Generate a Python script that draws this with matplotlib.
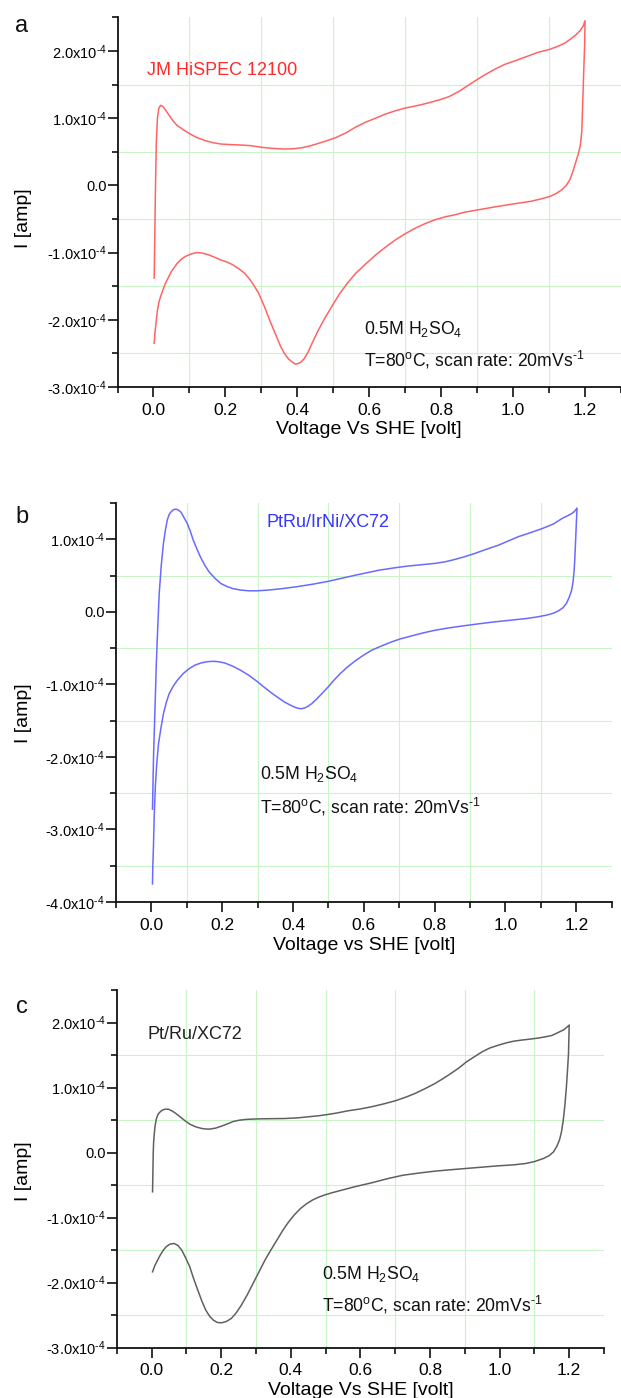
import matplotlib
matplotlib.use("Agg")
import matplotlib.pyplot as plt
from matplotlib.ticker import FixedLocator, FixedFormatter
import numpy as np

plt.rcParams['font.family'] = ['Liberation Sans', 'DejaVu Sans']
plt.rcParams['mathtext.default'] = 'regular'

# ---------------- data (current in units of 1e-4 A) ----------------
a_voltage = [0.002, 0.004, 0.006, 0.008, 0.011, 0.015, 0.020, 0.027, 0.035, 0.045, 0.055, 0.066, 0.077,
             0.088, 0.100, 0.121, 0.143, 0.165, 0.187, 0.210, 0.243, 0.270, 0.300, 0.330, 0.364, 0.390,
             0.410, 0.430, 0.450, 0.480, 0.507, 0.535, 0.560, 0.590, 0.618, 0.645, 0.673, 0.700, 0.728,
             0.760, 0.794, 0.822, 0.850, 0.870, 0.893, 0.920, 0.950, 0.977, 1.004, 1.040, 1.070, 1.100,
             1.125, 1.145, 1.158, 1.175, 1.186, 1.195, 1.200,
             1.199, 1.197, 1.195, 1.193, 1.191, 1.187, 1.182, 1.175, 1.167, 1.158, 1.148, 1.136, 1.120,
             1.103, 1.075, 1.048, 1.004, 0.950, 0.893, 0.865, 0.838, 0.810, 0.783, 0.755, 0.728, 0.700,
             0.673, 0.645, 0.618, 0.590, 0.562, 0.540, 0.518, 0.496, 0.474, 0.457, 0.441, 0.430, 0.419,
             0.410, 0.403, 0.395, 0.386, 0.375, 0.364, 0.353, 0.342, 0.325, 0.309, 0.292, 0.276, 0.265,
             0.254, 0.237, 0.220, 0.204, 0.187, 0.170, 0.154, 0.138, 0.121, 0.105, 0.088, 0.077, 0.066,
             0.050, 0.033, 0.022, 0.016, 0.011, 0.007, 0.004, 0.002]
a_current = [-1.38, -0.60, 0.10, 0.65, 1.00, 1.15, 1.19, 1.17, 1.11, 1.03, 0.955, 0.89, 0.85,
             0.81, 0.77, 0.71, 0.667, 0.635, 0.615, 0.607, 0.600, 0.59, 0.567, 0.55, 0.54, 0.545,
             0.557, 0.58, 0.61, 0.66, 0.71, 0.78, 0.86, 0.94, 1.00, 1.06, 1.11, 1.15, 1.18,
             1.22, 1.27, 1.32, 1.40, 1.47, 1.55, 1.64, 1.73, 1.80, 1.85, 1.92, 1.98, 2.02,
             2.07, 2.12, 2.17, 2.24, 2.30, 2.37, 2.45,
             2.10, 1.80, 1.45, 1.10, 0.80, 0.60, 0.48, 0.36, 0.22, 0.085, 0.00, -0.065, -0.12,
             -0.164, -0.205, -0.239, -0.274, -0.32, -0.373, -0.40, -0.438, -0.47, -0.512, -0.57, -0.637, -0.72,
             -0.811, -0.92, -1.035, -1.17, -1.31, -1.45, -1.61, -1.80, -2.00, -2.17, -2.35, -2.48, -2.58,
             -2.63, -2.65, -2.66, -2.63, -2.58, -2.50, -2.39, -2.25, -2.03, -1.81, -1.60, -1.46, -1.38,
             -1.31, -1.24, -1.18, -1.14, -1.11, -1.07, -1.035, -1.01, -1.00, -1.02, -1.06, -1.10, -1.16,
             -1.28, -1.46, -1.62, -1.72, -1.86, -2.05, -2.20, -2.35]

b_voltage = [0.003, 0.006, 0.009, 0.011, 0.014, 0.018, 0.022, 0.028, 0.034, 0.040, 0.045, 0.051, 0.056,
             0.063, 0.070, 0.077, 0.084, 0.092, 0.101, 0.110, 0.118, 0.129, 0.140, 0.151, 0.163, 0.180,
             0.196, 0.213, 0.230, 0.252, 0.275, 0.300, 0.331, 0.370, 0.409, 0.455, 0.499, 0.540, 0.578,
             0.610, 0.645, 0.685, 0.723, 0.765, 0.802, 0.830, 0.858, 0.885, 0.914, 0.945, 0.981, 1.010,
             1.037, 1.070, 1.105, 1.135, 1.161, 1.178, 1.189, 1.196, 1.202,
             1.200, 1.198, 1.196, 1.194, 1.191, 1.187, 1.180, 1.172, 1.162, 1.150, 1.135, 1.116, 1.090,
             1.060, 1.015, 0.970, 0.925, 0.880, 0.840, 0.802, 0.768, 0.735, 0.705, 0.678, 0.650, 0.622,
             0.600, 0.578, 0.555, 0.533, 0.515, 0.499, 0.482, 0.465, 0.453, 0.443, 0.433, 0.423, 0.414,
             0.404, 0.390, 0.376, 0.360, 0.342, 0.320, 0.297, 0.275, 0.252, 0.230, 0.207, 0.190, 0.174,
             0.157, 0.140, 0.123, 0.107, 0.090, 0.073, 0.061, 0.050, 0.042, 0.034, 0.027, 0.020, 0.015,
             0.011, 0.008, 0.006, 0.004, 0.003]
b_current = [-2.72, -2.00, -1.50, -1.13, -0.70, -0.20, 0.25, 0.65, 0.945, 1.14, 1.27, 1.35, 1.38,
             1.41, 1.415, 1.40, 1.37, 1.30, 1.22, 1.11, 0.99, 0.86, 0.74, 0.64, 0.55, 0.46,
             0.39, 0.35, 0.32, 0.30, 0.29, 0.29, 0.30, 0.32, 0.345, 0.38, 0.42, 0.465, 0.507,
             0.54, 0.576, 0.605, 0.63, 0.65, 0.668, 0.69, 0.723, 0.76, 0.806, 0.86, 0.92, 0.98,
             1.037, 1.09, 1.15, 1.21, 1.29, 1.33, 1.36, 1.39, 1.43,
             1.20, 0.945, 0.75, 0.576, 0.42, 0.30, 0.20, 0.115, 0.055, 0.014, -0.02, -0.046, -0.07,
             -0.092, -0.115, -0.138, -0.165, -0.194, -0.222, -0.253, -0.29, -0.332, -0.37, -0.415, -0.47, -0.53,
             -0.595, -0.668, -0.755, -0.853, -0.945, -1.037, -1.125, -1.21, -1.265, -1.30, -1.325, -1.336, -1.33,
             -1.313, -1.28, -1.244, -1.19, -1.129, -1.045, -0.954, -0.875, -0.806, -0.75, -0.705, -0.688, -0.682,
             -0.688, -0.705, -0.735, -0.783, -0.85, -0.945, -1.03, -1.13, -1.25, -1.405, -1.60, -1.82, -2.10,
             -2.42, -2.80, -3.20, -3.50, -3.75]

c_voltage = [0.003, 0.004, 0.005, 0.006, 0.008, 0.010, 0.014, 0.019, 0.025, 0.032, 0.040, 0.049, 0.059,
             0.070, 0.082, 0.096, 0.110, 0.127, 0.144, 0.155, 0.167, 0.184, 0.201, 0.218, 0.235, 0.252,
             0.269, 0.290, 0.314, 0.350, 0.383, 0.420, 0.451, 0.480, 0.507, 0.535, 0.564, 0.600, 0.632,
             0.665, 0.700, 0.730, 0.757, 0.785, 0.814, 0.837, 0.860, 0.883, 0.905, 0.928, 0.950, 0.973,
             0.996, 1.018, 1.041, 1.064, 1.087, 1.110, 1.132, 1.150, 1.166, 1.185, 1.200,
             1.199, 1.198, 1.195, 1.192, 1.188, 1.183, 1.178, 1.172, 1.164, 1.155, 1.142, 1.126, 1.100,
             1.075, 1.040, 0.996, 0.950, 0.905, 0.860, 0.814, 0.770, 0.723, 0.680, 0.632, 0.585, 0.542,
             0.518, 0.496, 0.479, 0.462, 0.445, 0.428, 0.411, 0.394, 0.377, 0.360, 0.343, 0.326, 0.309,
             0.292, 0.275, 0.258, 0.243, 0.229, 0.215, 0.201, 0.189, 0.178, 0.167, 0.156, 0.145, 0.133,
             0.121, 0.110, 0.098, 0.087, 0.076, 0.065, 0.053, 0.042, 0.033, 0.025, 0.017, 0.010, 0.006,
             0.003]
c_current = [-0.605, -0.30, 0.00, 0.15, 0.29, 0.40, 0.52, 0.59, 0.626, 0.655, 0.667, 0.665, 0.64,
             0.60, 0.55, 0.49, 0.436, 0.395, 0.37, 0.362, 0.36, 0.375, 0.405, 0.44, 0.477, 0.497,
             0.508, 0.514, 0.518, 0.52, 0.523, 0.533, 0.549, 0.565, 0.585, 0.61, 0.641, 0.67, 0.703,
             0.745, 0.795, 0.85, 0.908, 0.98, 1.06, 1.135, 1.215, 1.30, 1.395, 1.475, 1.55, 1.61,
             1.65, 1.685, 1.713, 1.73, 1.744, 1.76, 1.78, 1.80, 1.84, 1.89, 1.96,
             1.75, 1.52, 1.25, 1.01, 0.75, 0.497, 0.32, 0.19, 0.09, 0.01, -0.05, -0.092, -0.14,
             -0.169, -0.19, -0.205, -0.225, -0.246, -0.265, -0.287, -0.315, -0.349, -0.40, -0.467, -0.525, -0.585,
             -0.62, -0.656, -0.69, -0.733, -0.79, -0.862, -0.955, -1.067, -1.20, -1.35, -1.50, -1.656, -1.835,
             -2.015, -2.19, -2.35, -2.47, -2.554, -2.60, -2.62, -2.615, -2.58, -2.52, -2.426, -2.29, -2.118,
             -1.94, -1.76, -1.62, -1.503, -1.43, -1.40, -1.41, -1.45, -1.51, -1.58, -1.66, -1.733, -1.79,
             -1.836]

x_ticks = [0.0, 0.2, 0.4, 0.6, 0.8, 1.0, 1.2]
x_tick_labels = ["0.0", "0.2", "0.4", "0.6", "0.8", "1.0", "1.2"]
a_yticks = [-3.0, -2.0, -1.0, 0.0, 1.0, 2.0]
b_yticks = [-4.0, -3.0, -2.0, -1.0, 0.0, 1.0]
c_yticks = [-3.0, -2.0, -1.0, 0.0, 1.0, 2.0]


def ylab(v):
    if v == 0:
        return "0.0"
    return "%.1fx10$^{\u2010 4}$" % v

# ---------------- figure ----------------
W, H = 621, 1398
fig = plt.figure(figsize=(W / 100, H / 100), dpi=100)


def make_ax(left, right, top, bottom):
    return fig.add_axes([left / W, 1 - bottom / H, (right - left) / W, (bottom - top) / H])


panels = [
    dict(box=(117.5, 621, 17.3, 387), v=a_voltage, i=a_current, color='#ff6464',
         ylim=(-3.0, 2.5), yt=a_yticks, letter='a', letter_y=31.7,
         xlabel="Voltage Vs SHE [volt]", ylabel_y=0.457,
         name="JM HiSPEC 12100", name_xy=(-0.018, 1.64), name_color='#ff2a2a',
         t1_xy=(0.586, -2.21), t2_xy=(0.586, -2.69)),
    dict(box=(116, 611.7, 503, 902), v=b_voltage, i=b_current, color='#6a6aff',
         ylim=(-4.0, 1.5), yt=b_yticks, letter='b', letter_y=523.3,
         xlabel="Voltage vs SHE [volt]", ylabel_y=0.474,
         name="PtRu/IrNi/XC72", name_xy=(0.326, 1.165), name_color='#3535ff',
         t1_xy=(0.308, -2.31), t2_xy=(0.308, -2.78)),
    dict(box=(116.7, 604, 990, 1347.5), v=c_voltage, i=c_current, color='#606060',
         ylim=(-3.0, 2.5), yt=c_yticks, letter='c', letter_y=1013.3,
         xlabel="Voltage Vs SHE [volt]", ylabel_y=0.492,
         name="Pt/Ru/XC72", name_xy=(-0.0115, 1.75), name_color='#222222',
         t1_xy=(0.489, -1.94), t2_xy=(0.489, -2.44)),
]

for p in panels:
    ax = make_ax(*p['box'])
    ax.set_xlim(-0.1, 1.3)
    ax.set_ylim(*p['ylim'])
    # grid at minor positions (light green)
    xminor = np.arange(-0.1, 1.31, 0.2)
    yminor = np.arange(p['ylim'][0] + 0.5, p['ylim'][1] + 0.01, 1.0)
    for xv in xminor[1:-1]:
        ax.axvline(xv, color='#c8f5c8', lw=0.8, zorder=0)
    for yv in yminor:
        if yv < p['ylim'][1] - 0.01:
            ax.axhline(yv, color='#c8f5c8', lw=0.8, zorder=0)

    ax.plot(p['v'], np.array(p['i']), color=p['color'], lw=1.1, zorder=3)

    for s in ('top', 'right'):
        ax.spines[s].set_visible(False)
    for s in ('left', 'bottom'):
        ax.spines[s].set_linewidth(1.3)
        ax.spines[s].set_color('#111111')

    ax.xaxis.set_major_locator(FixedLocator(x_ticks))
    ax.xaxis.set_major_formatter(FixedFormatter(x_tick_labels))
    ax.xaxis.set_minor_locator(FixedLocator(list(xminor)))
    ax.yaxis.set_major_locator(FixedLocator(p['yt']))
    ax.yaxis.set_major_formatter(FixedFormatter([ylab(v) for v in p['yt']]))
    ax.yaxis.set_minor_locator(FixedLocator(list(yminor)))
    ax.tick_params(which='major', direction='out', length=7, width=1.2, color='#111111')
    ax.tick_params(which='minor', direction='out', length=4, width=1.2, color='#111111')
    ax.tick_params(axis='x', which='major', pad=4.5, labelsize=12.5)
    ax.tick_params(axis='y', which='major', pad=1.0, labelsize=10.5)

    ax.set_xlabel(p['xlabel'], fontsize=14)
    ax.xaxis.set_label_coords(0.5, -43 / (p['box'][3] - p['box'][2]))
    ax.xaxis.label.set_va('center')
    ax.set_ylabel("I [amp]", fontsize=14)
    ax.yaxis.set_label_coords((23.8 - p['box'][0]) / (p['box'][1] - p['box'][0]), p['ylabel_y'])
    ax.yaxis.label.set_va('center')

    ax.text(p['name_xy'][0], p['name_xy'][1], p['name'], color=p['name_color'],
            fontsize=13, ha='left', va='baseline')
    ax.text(p['t1_xy'][0], p['t1_xy'][1], "0.5M H$_2$SO$_4$", color='#111111',
            fontsize=12.7, ha='left', va='baseline')
    ax.text(p['t2_xy'][0], p['t2_xy'][1], "T=80$^o$C, scan rate: 20mVs$^{\u2010 1}$", color='#111111',
            fontsize=12.7, ha='left', va='baseline')

    fig.text(21.8 / W, 1 - p['letter_y'] / H, p['letter'], fontsize=17, ha='center', va='baseline',
             color='#111111')

fig.savefig("out.png", dpi=100)
